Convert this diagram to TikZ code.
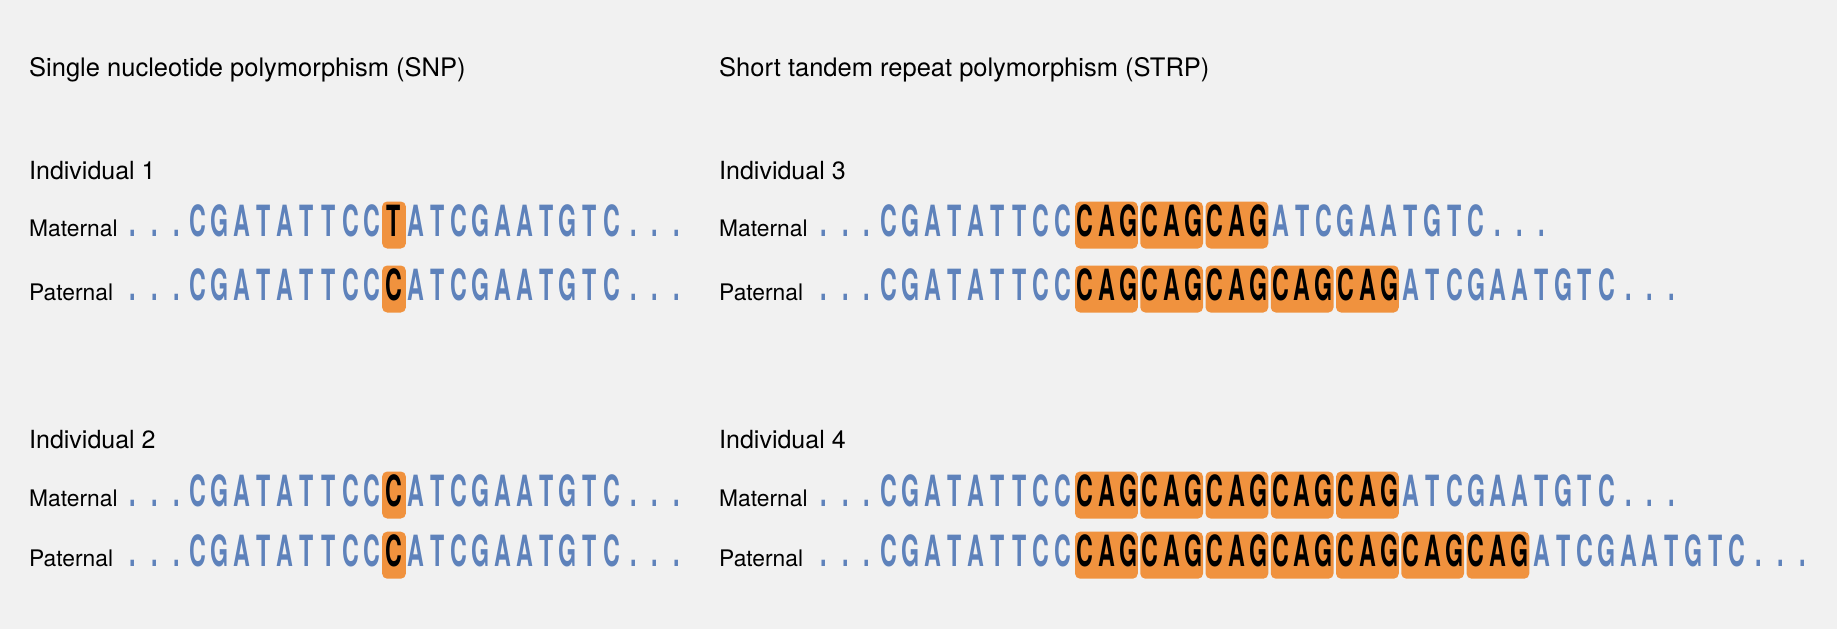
\documentclass[tikz,border=0pt]{standalone}
\usepackage{fontspec}
\usepackage{graphicx}
\setmainfont{TeX Gyre Heros}
\definecolor{bgc}{HTML}{F1F1F1}
\definecolor{seqblue}{HTML}{5E82BB}
\definecolor{hlor}{HTML}{F0923E}
\newcommand\pitch{21.75}
\tikzset{
  seqch/.style={anchor=base, inner sep=0pt, font=\fontsize{43}{43}\selectfont\bfseries},
  lab/.style={anchor=base west, inner sep=0pt, font=\fontsize{22.8}{27}\selectfont},
  ttl/.style={anchor=base west, inner sep=0pt, font=\fontsize{25.5}{30}\selectfont},
  ind/.style={anchor=base west, inner sep=0pt, font=\fontsize{25}{30}\selectfont},
  hlbox/.style={fill=hlor, draw=none, rounded corners=5pt, inner sep=0pt, minimum height=47pt},
}
\newcommand\seqpart[6]{%
  \foreach \ch [count=\k from #4] in {#6} {%
    \node[seqch,text=#5] (#1-\k) at ({#2+\k*\pitch},{-#3}) {\scalebox{0.54}[1]{\ch}};}}
\newcommand\snprow[4]{%
  \node[hlbox, minimum width=23.7pt] (#1-box) at ({#2+12*\pitch},{-#3+11.5}) {};
  \seqpart{#1}{#2}{#3}{0}{seqblue}{.,.,.,C,G,A,T,A,T,T,C,C}
  \seqpart{#1}{#2}{#3}{12}{black}{#4}
  \seqpart{#1}{#2}{#3}{13}{seqblue}{A,T,C,G,A,A,T,G,T,C,.,.,.}}
\newcommand\strprow[4]{%
  \foreach \r in {1,...,#4} {%
    \node[hlbox, minimum width=62.7pt] (#1-box\r) at ({#2+(10+3*\r)*\pitch},{-#3+11.5}) {};}
  \seqpart{#1}{#2}{#3}{0}{seqblue}{.,.,.,C,G,A,T,A,T,T,C,C}
  \foreach \r in {1,...,#4} {%
    \pgfmathtruncatemacro\st{9+3*\r}
    \seqpart{#1}{#2}{#3}{\st}{black}{C,A,G}}
  \pgfmathtruncatemacro\sf{12+3*#4}
  \seqpart{#1}{#2}{#3}{\sf}{seqblue}{A,T,C,G,A,A,T,G,T,C,.,.,.}}
\begin{document}
\begin{tikzpicture}[x=1pt,y=1pt]
\fill[bgc] (0,0) rectangle (1837,-629);
\useasboundingbox (0,0) rectangle (1837,-629);
% titles
\node[ttl] (t1) at (29,-76.7) {Single nucleotide polymorphism (SNP)};
\node[ttl] (t2) at (719,-76.7) {Short tandem repeat polymorphism (STRP)};
% individuals
\node[ind] (i1) at (29,-179.3) {Individual 1};
\node[ind] (i2) at (29,-448.3) {Individual 2};
\node[ind] (i3) at (719,-179.3) {Individual 3};
\node[ind] (i4) at (719,-448.3) {Individual 4};
% row labels
\node[lab] (m1) at (29,-236.5) {Maternal};
\node[lab] (p1) at (29,-300.5) {Paternal};
\node[lab] (m2) at (29,-506.5) {Maternal};
\node[lab] (p2) at (29,-566.7) {Paternal};
\node[lab] (m3) at (719,-236.5) {Maternal};
\node[lab] (p3) at (719,-300.5) {Paternal};
\node[lab] (m4) at (719,-506.5) {Maternal};
\node[lab] (p4) at (719,-566.7) {Paternal};
% sequences
\snprow{s1m}{133}{236.5}{T}
\snprow{s1p}{133}{300.5}{C}
\snprow{s2m}{133}{506.5}{C}
\snprow{s2p}{133}{566.7}{C}
\strprow{s3m}{823.65}{236.5}{3}
\strprow{s3p}{823.65}{300.5}{5}
\strprow{s4m}{823.65}{506.5}{5}
\strprow{s4p}{823.65}{566.7}{7}
\end{tikzpicture}
\end{document}
